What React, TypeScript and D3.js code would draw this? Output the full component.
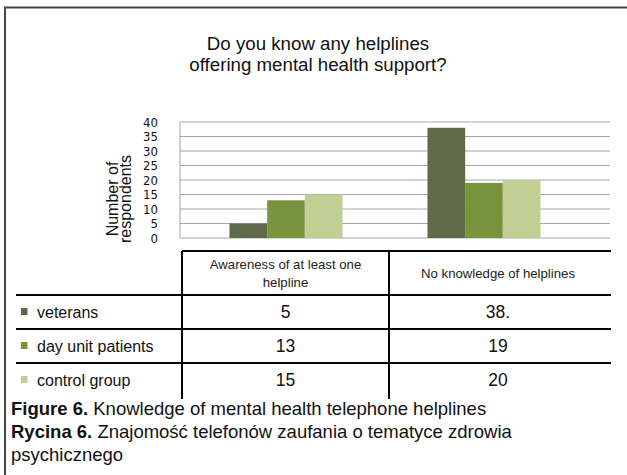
import React from "react";
import * as d3 from "d3";

const categories = ["Awareness of at least one helpline", "No knowledge of helplines"];
const headerLines = [["Awareness of at least one", "helpline"], ["No knowledge of helplines"]];
const seriesNames = ["veterans", "day unit patients", "control group"];
const veterans = [5, 38];
const dayUnit = [13, 19];
const control = [15, 20];
const cellLabels = [["5", "38."], ["13", "19"], ["15", "20"]];
const yTicks = [0, 5, 10, 15, 20, 25, 30, 35, 40];
const colors = ["#5f6a4a", "#77933c", "#c2cf94"];

const W = 627;
const H = 475;

export default function App() {
  const series = [veterans, dayUnit, control];
  const y = d3.scaleLinear().domain([0, 40]).range([238, 122]);
  const x0 = d3.scaleBand<string>().domain(categories).range([187, 583]);
  const groupW = 113;
  const x1 = d3.scaleBand<string>().domain(seriesNames).range([0, groupW]);
  const plotL = 180;
  const plotR = 610;

  const tableTop = 251;
  const headerBottom = 295;
  const rowH = 34;
  const tableL = 182;
  const colDiv = 389;
  const tableR = 611;
  const colCenters = [(tableL + colDiv) / 2, (colDiv + tableR) / 2 - 2];
  const tableBottom = headerBottom + rowH * 3 + 2;
  const font = "Liberation Sans, Arial, sans-serif";

  return (
    <svg width={W} height={H} style={{ position: "absolute", left: 0, top: 0, background: "#fff" }}>
      <rect x={0} y={0} width={W} height={H} fill="#fff" />
      {/* frame */}
      <line x1={4} y1={7.5} x2={627} y2={7.5} stroke="#444" strokeWidth={2} />
      <line x1={5} y1={7} x2={5} y2={H} stroke="#444" strokeWidth={2} />

      {/* title */}
      <g fontFamily={font} fontSize={18.7} fill="#111" textAnchor="middle">
        <text x={318} y={50}>Do you know any helplines</text>
        <text x={318} y={71}>offering mental health support?</text>
      </g>

      {/* gridlines */}
      {yTicks.map((t) => (
        <line key={t} x1={plotL} x2={plotR} y1={y(t)} y2={y(t)} stroke="#a6a6a6" strokeWidth={1} />
      ))}
      <line x1={plotL} x2={plotL} y1={y(40)} y2={y(0)} stroke="#a6a6a6" strokeWidth={1} />

      {/* y tick labels */}
      <g fontFamily="Liberation Sans Narrow, DejaVu Sans Condensed, sans-serif" fontSize={13} fill="#111" textAnchor="end">
        {yTicks.map((t) => (
          <text key={t} x={158} y={y(t)} dy="0.36em">{t}</text>
        ))}
      </g>

      {/* y axis title */}
      <g fontFamily={font} fontSize={16} fill="#111" textAnchor="middle">
        <text transform={`translate(117.5,199) rotate(-90)`}>Number of</text>
        <text transform={`translate(130.5,199) rotate(-90)`}>respondents</text>
      </g>

      {/* bars */}
      {categories.map((c, ci) => {
        const gx = (x0(c) as number) + x0.bandwidth() / 2 - groupW / 2;
        return (
          <g key={c}>
            {series.map((s, si) => (
              <rect
                key={si}
                x={gx + (x1(seriesNames[si]) as number)}
                y={y(s[ci])}
                width={x1.bandwidth()}
                height={y(0) - y(s[ci])}
                fill={colors[si]}
              />
            ))}
          </g>
        );
      })}

      {/* table */}
      <g stroke="#000" strokeWidth={2}>
        <line x1={tableL} x2={tableR} y1={tableTop} y2={tableTop} />
        {[0, 1, 2].map((i) => (
          <line key={i} x1={16} x2={tableR} y1={headerBottom + rowH * i} y2={headerBottom + rowH * i} />
        ))}
        <line x1={tableL} x2={tableL} y1={tableTop} y2={tableBottom} />
        <line x1={colDiv} x2={colDiv} y1={tableTop} y2={tableBottom} />
      </g>
      <g fontFamily={font} fontSize={13.2} fill="#222" textAnchor="middle">
        {headerLines.map((lines, ci) =>
          lines.map((ln, li) => (
            <text
              key={ci + "-" + li}
              x={colCenters[ci]}
              y={(tableTop + headerBottom) / 2 + (li - (lines.length - 1) / 2) * 18}
              dy="0.35em"
            >
              {ln}
            </text>
          ))
        )}
      </g>
      {seriesNames.map((name, si) => {
        const cy = headerBottom + rowH * si + rowH / 2;
        return (
          <g key={name} fontFamily={font} fill="#111">
            <rect x={21} y={cy - 4} width={6.5} height={7} fill={colors[si]} />
            <text x={37} y={cy} dy="0.35em" fontSize={16}>{name}</text>
            {cellLabels[si].map((lab, ci) => (
              <text key={ci} x={colCenters[ci]} y={cy} dy="0.35em" fontSize={17.5} textAnchor="middle">
                {lab}
              </text>
            ))}
          </g>
        );
      })}

      {/* caption */}
      <g fontFamily={font} fontSize={18.5} fill="#111">
        <text x={11} y={415}>
          <tspan fontWeight="bold">Figure 6.</tspan> Knowledge of mental health telephone helplines
        </text>
        <text x={11} y={438}>
          <tspan fontWeight="bold">Rycina 6.</tspan> Znajomość telefonów zaufania o tematyce zdrowia
        </text>
        <text x={11} y={461}>psychicznego</text>
      </g>
    </svg>
  );
}
